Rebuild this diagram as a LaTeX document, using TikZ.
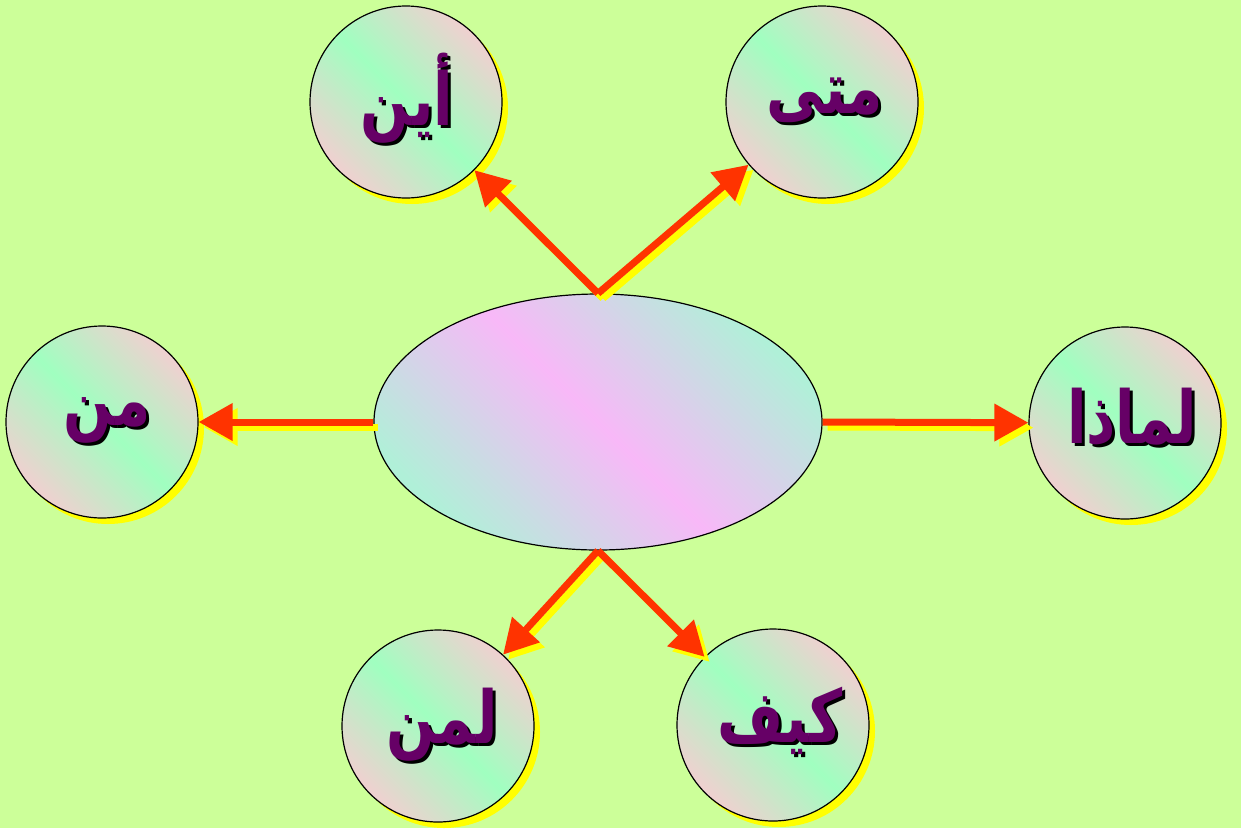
\documentclass[tikz,border=0pt]{standalone}
\usepackage{fontspec}
\usepackage{graphicx}
\newfontfamily\arabicfont[Script=Arabic]{DejaVu Sans}
\TeXXeTstate=1
\usetikzlibrary{arrows.meta,shadows,shapes.geometric}
\definecolor{bg}{HTML}{CCFF99}
\definecolor{cpink}{HTML}{F0D0D0}
\definecolor{cgreen}{HTML}{A0FFC0}
\definecolor{eaqua}{HTML}{B0F0D8}
\definecolor{epink}{HTML}{F8B8F8}
\definecolor{arrred}{HTML}{FF3300}
\definecolor{shyel}{HTML}{FFFF00}
\definecolor{txtpurple}{HTML}{660066}
\pgfdeclarehorizontalshading{circsh}{100bp}{color(0bp)=(cpink); color(25bp)=(cpink); color(50bp)=(cgreen); color(75bp)=(cpink); color(100bp)=(cpink)}
\pgfdeclarehorizontalshading{ellsh}{100bp}{color(0bp)=(eaqua); color(25bp)=(eaqua); color(50bp)=(epink); color(75bp)=(eaqua); color(100bp)=(eaqua)}
\newcommand\shtext[1]{\scalebox{1}[1.28]{\rlap{\kern3pt\raisebox{-2.4pt}{\textcolor{black}{\beginR#1\endR}}}\beginR#1\endR}}
\tikzset{
  qcircle/.style={circle, draw=black, line width=1.2pt, minimum size=192pt, inner sep=0pt,
    shading=circsh, shading angle=45,
    drop shadow={shadow xshift=6pt, shadow yshift=-6pt, fill=shyel, opacity=1}},
  centre/.style={ellipse, draw=black, line width=1.2pt, minimum width=448pt, minimum height=256pt,
    inner sep=0pt, shading=ellsh, shading angle=45},
  arr/.style={draw=arrred, line width=7pt, -{Triangle[length=34pt,width=36pt]}},
  arrsh/.style={draw=shyel, line width=7pt, -{Triangle[length=34pt,width=36pt]},
    transform canvas={shift={(5pt,-5pt)}}},
  qtext/.style={font=\arabicfont\bfseries\fontsize{57}{66}\selectfont, text=txtpurple, inner sep=0pt},
}
\begin{document}
\begin{tikzpicture}[x=1pt,y=-1pt]
\fill[bg] (0,0) rectangle (1241,828);
\useasboundingbox (0,0) rectangle (1241,828);
% nodes
\node[centre] (e) at (598,422) {};
\node[qcircle] (ayn) at (406,102) {};
\node[qcircle] (mata) at (822,102) {};
\node[qcircle] (man) at (102,422) {};
\node[qcircle] (limadha) at (1125,423) {};
\node[qcircle] (liman) at (438,726) {};
\node[qcircle] (kayfa) at (773,725) {};
% labels
\node[qtext] (tayn) at (407,100) {\shtext{أين}};
\node[qtext] (tmata) at (825,102) {\shtext{متى}};
\node[qtext] (tman) at (107,422) {\shtext{من}};
\node[qtext] (tlimadha) at (1132,418) {\shtext{لماذا}};
\node[qtext] (tliman) at (442,726) {\shtext{لمن}};
\node[qtext] (tkayfa) at (780,722) {\shtext{كيف}};
% arrow shadows
\draw[arrsh] (e.north) -- (ayn);
\draw[arrsh] (e.north) -- (mata);
\draw[arrsh] (e.west) -- (man);
\draw[arrsh] (e.east) -- (limadha);
\draw[arrsh] (e.south) -- (liman);
\draw[arrsh] (e.south) -- (kayfa);
% arrows
\draw[arr] (e.north) -- (ayn);
\draw[arr] (e.north) -- (mata);
\draw[arr] (e.west) -- (man);
\draw[arr] (e.east) -- (limadha);
\draw[arr] (e.south) -- (liman);
\draw[arr] (e.south) -- (kayfa);
\end{tikzpicture}
\end{document}
